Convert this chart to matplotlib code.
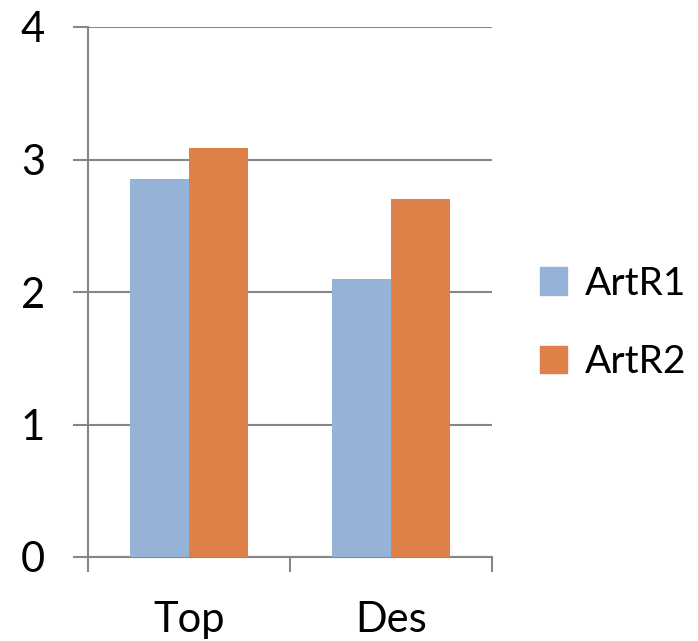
import numpy as np
import matplotlib.pyplot as plt
from matplotlib.patches import Patch

plt.rcParams['font.family'] = ['Lato', 'DejaVu Sans']

categories = ["Top", "Des"]
series = ["ArtR1", "ArtR2"]
artr1 = [2.85, 2.1]
artr2 = [3.09, 2.7]
colors = ["#95B3D7", "#DE8047"]
grid_c = "#868686"

fig = plt.figure(figsize=(6.98, 6.41), dpi=100)
ax = fig.add_axes([88/698, (641-557)/641, (492-88)/698, (557-27)/641])

x = np.arange(len(categories))
w = 0.29
ax.bar(x - w/2, artr1, w, color=colors[0], zorder=3)
ax.bar(x + w/2, artr2, w, color=colors[1], zorder=3)

ax.set_xlim(-0.5, 1.5)
ax.set_ylim(0, 4)
ax.set_yticks([0, 1, 2, 3, 4])
ax.yaxis.grid(True, color=grid_c, linewidth=1.5, zorder=0)
ax.set_axisbelow(True)

ax.set_xticks(x)
ax.set_xticklabels(categories)
ax.set_xticks([-0.5, 0.5, 1.5], minor=True)
ax.tick_params(axis='x', which='major', length=0, pad=32, labelsize=30)
ax.tick_params(axis='x', which='minor', length=11, width=1.5, color=grid_c, direction='out')
ax.tick_params(axis='y', length=11, width=1.5, color=grid_c, pad=20, labelsize=30)

for s in ['top', 'right']:
    ax.spines[s].set_visible(False)
for s in ['left', 'bottom']:
    ax.spines[s].set_color(grid_c)
    ax.spines[s].set_linewidth(1.5)

handles = [Patch(color=c) for c in colors]
fig.legend(handles, series, loc='center left', bbox_to_anchor=(540/698, 1 - 323/641),
           frameon=False, fontsize=28, handlelength=0.7, handleheight=0.7,
           handletextpad=0.45, labelspacing=1.1, borderpad=0, borderaxespad=0)

fig.savefig("out.png", dpi=100)
